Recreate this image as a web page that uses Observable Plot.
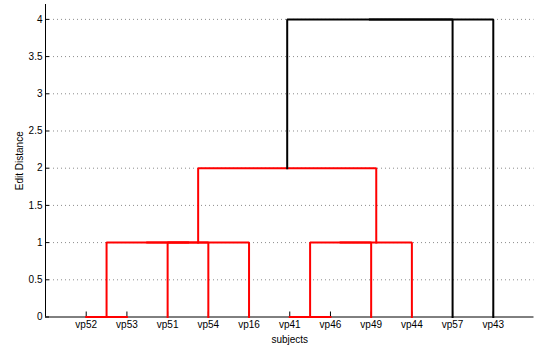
<!DOCTYPE html>
<html><head><meta charset="utf-8">
<script src="https://cdn.jsdelivr.net/npm/d3@7"></script>
<script src="https://cdn.jsdelivr.net/npm/@observablehq/plot@0.6"></script>
<style>body{margin:0;background:#fff} svg{display:block}</style>
</head><body><div id="chart"></div>
<script>
// Leaves in dendrogram display order
const subjects = ["vp52","vp53","vp51","vp54","vp16","vp41","vp46","vp49","vp44","vp57","vp43"];
// Merges (node ids: leaves 0..10, merged nodes 11..20 in order)
const mergeLeft   = [0, 5, 2, 11, 14, 12, 16, 15, 18, 19];
const mergeRight  = [1, 6, 3, 13, 4, 7, 8, 17, 9, 10];
const mergeHeight = [0, 0, 1, 1, 1, 1, 1, 2, 4, 4];
const mergeGroup  = ["cluster","cluster","cluster","cluster","cluster","cluster","cluster","cluster","root","root"];
const yTicks = [0, 0.5, 1, 1.5, 2, 2.5, 3, 3.5, 4];

const W = 540, H = 346, mL = 45, mR = 6.5, mT = 4, mB = 29.5;
const frameW = W - mL - mR, frameH = H - mT - mB;

const nodeX = subjects.map((_, i) => i + 1);
const nodeY = subjects.map(() => 0);
const points = [];
mergeLeft.forEach((l, k) => {
  const r = mergeRight[k], h = mergeHeight[k], g = mergeGroup[k];
  points.push({k, g, x: nodeX[l], y: nodeY[l]});
  points.push({k, g, x: nodeX[l], y: h});
  points.push({k, g, x: nodeX[r], y: h});
  points.push({k, g, x: nodeX[r], y: nodeY[r]});
  nodeX.push((nodeX[l] + nodeX[r]) / 2);
  nodeY.push(h);
});
const leafX = subjects.map((_, i) => i + 1);

const chart = Plot.plot({
  width: W, height: H,
  marginLeft: mL, marginRight: mR, marginTop: mT, marginBottom: mB,
  style: {fontFamily: "'Liberation Sans', Arial, sans-serif", fontSize: "10px", color: "#000", background: "#fff"},
  x: {domain: [0, 12]},
  y: {domain: [0, 4.2]},
  color: {domain: ["cluster", "root"], range: ["#ff0000", "#000000"]},
  marks: [
    Plot.gridY(yTicks.filter(v => v > 0), {stroke: "#8c8c8c", strokeOpacity: 1, strokeDasharray: "1,3"}),
    Plot.ruleX([0], {stroke: "#000"}),
    Plot.ruleY([0], {stroke: "#000"}),
    Plot.tickX(leafX, {x: d => d, stroke: "#000", insetTop: frameH - 5}),
    Plot.tickY(yTicks, {y: d => d, stroke: "#000", insetRight: frameW - 4}),
    Plot.line(points, {x: "x", y: "y", z: "k", stroke: "g", strokeWidth: 2, strokeLinejoin: "miter", strokeLinecap: "square"}),
    Plot.axisX({ticks: leafX, tickFormat: d => subjects[d - 1], tickSize: 0, tickPadding: 4, fontSize: 10,
      label: "subjects", labelAnchor: "center", labelOffset: 26, labelArrow: "none"}),
    Plot.axisY({ticks: yTicks, tickFormat: d => String(d), tickSize: 0, tickPadding: 3, fontSize: 10,
      label: "Edit Distance", labelAnchor: "center", labelOffset: 30, labelArrow: "none"})
  ]
});
document.getElementById("chart").appendChild(chart);
</script>
</body></html>
